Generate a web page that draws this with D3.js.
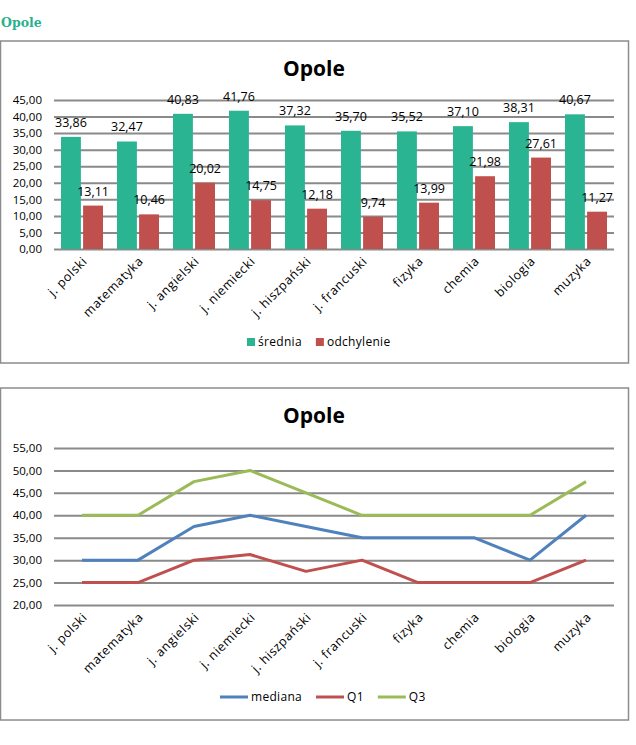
<!DOCTYPE html>
<html>
<head>
<meta charset="utf-8">
<script src="https://cdn.jsdelivr.net/npm/d3@7"></script>
<style>
  body { margin: 0; background: #fff; }
  svg { display: block; }
</style>
</head>
<body>
<div id="chart"></div>
<script>
//---------------------------DATA---------------------------//
const subjects = ["j. polski", "matematyka", "j. angielski", "j. niemiecki", "j. hiszpański",
    "j. francuski", "fizyka", "chemia", "biologia", "muzyka"];
const srednia = [33.86, 32.47, 40.83, 41.76, 37.32, 35.70, 35.52, 37.10, 38.31, 40.67];
const odchylenie = [13.11, 10.46, 20.02, 14.75, 12.18, 9.74, 13.99, 21.98, 27.61, 11.27];
const mediana = [30, 30, 37.5, 40, 37.5, 35, 35, 35, 30, 40];
const q1 = [25, 25, 30, 31.25, 27.5, 30, 25, 25, 25, 30];
const q3 = [40, 40, 47.5, 50, 45, 40, 40, 40, 40, 47.5];
const barTicks = [0, 5, 10, 15, 20, 25, 30, 35, 40, 45];
const lineTicks = [20, 25, 30, 35, 40, 45, 50, 55];

//---------------------------SETUP--------------------------//
const W = 636, H = 745;
const font = "'Open Sans', 'Liberation Sans', sans-serif";
const grid = "#8a8a8a";
const fmt = v => d3.format(".2f")(v).replace(".", ",");

const svg = d3.select("#chart").append("svg")
    .attr("width", W)
    .attr("height", H)
    .style("font-family", font);

svg.append("rect").attr("width", W).attr("height", H).attr("fill", "#fff");

// page heading
svg.append("text")
    .attr("x", 1).attr("y", 27)
    .attr("font-family", "'DejaVu Serif', serif")
    .attr("font-weight", "bold")
    .attr("font-size", 12.5)
    .attr("fill", "#2bb08e")
    .text("Opole");

const x = d3.scaleBand().domain(subjects).range([54, 614]);

function frame(top, bottom) {
    svg.append("rect")
        .attr("x", 0.5).attr("y", top)
        .attr("width", 628).attr("height", bottom - top)
        .attr("fill", "none")
        .attr("stroke", "#8c8c8c")
        .attr("stroke-width", 1.5);
}

function title(y) {
    svg.append("text")
        .attr("x", 314).attr("y", y)
        .attr("text-anchor", "middle")
        .attr("font-weight", "bold")
        .attr("font-size", 21)
        .attr("fill", "#000")
        .text("Opole");
}

function axes(y, ticks, axisY) {
    const yAxis = d3.axisLeft(y)
        .tickValues(ticks)
        .tickSize(-(614 - 54))
        .tickFormat(fmt);
    const g = svg.append("g")
        .attr("transform", "translate(54,0)")
        .call(yAxis);
    g.select(".domain").remove();
    g.selectAll(".tick line").attr("stroke", grid).attr("stroke-width", 2);
    g.selectAll(".tick text")
        .attr("x", -12)
        .attr("font-size", 11.5)
        .attr("fill", "#000")
        .attr("font-family", font);

    const xAxis = d3.axisBottom(x).tickSize(0);
    const gx = svg.append("g")
        .attr("transform", "translate(0," + axisY + ")")
        .call(xAxis);
    gx.select(".domain").remove();
    gx.selectAll(".tick text")
        .attr("font-size", 12.5)
        .attr("font-family", font)
        .attr("letter-spacing", 0.6)
        .attr("fill", "#000")
        .attr("text-anchor", "end")
        .attr("dy", 0)
        .attr("y", 0)
        .attr("transform", "translate(6,13) rotate(-45)");
}

//-------------------------BAR CHART------------------------//
frame(41, 363);
title(76);

const yBar = d3.scaleLinear().domain([0, 45]).range([249, 100]);
axes(yBar, barTicks, 249);

const barSeries = [
    {name: "średnia", values: srednia, color: "#2bb492"},
    {name: "odchylenie", values: odchylenie, color: "#c0504d"}
];
const xSub = d3.scaleBand()
    .domain(barSeries.map(s => s.name))
    .range([7, x.bandwidth() - 7])
    .paddingInner(0.1);

barSeries.forEach(s => {
    const g = svg.append("g");
    g.selectAll("rect")
        .data(s.values)
        .enter().append("rect")
        .attr("x", (d, i) => x(subjects[i]) + xSub(s.name))
        .attr("y", d => yBar(d))
        .attr("width", xSub.bandwidth())
        .attr("height", d => yBar(0) - yBar(d))
        .attr("fill", s.color);
    g.selectAll("text")
        .data(s.values)
        .enter().append("text")
        .attr("x", (d, i) => x(subjects[i]) + xSub(s.name) + xSub.bandwidth() / 2)
        .attr("y", d => yBar(d) - 10)
        .attr("text-anchor", "middle")
        .attr("font-size", 12.5)
        .attr("fill", "#000")
        .text(fmt);
});

// legend
const barLegend = svg.append("g");
let lx = 247;
barSeries.forEach(s => {
    barLegend.append("rect")
        .attr("x", lx).attr("y", 338)
        .attr("width", 8).attr("height", 8)
        .attr("fill", s.color);
    const t = barLegend.append("text")
        .attr("x", lx + 11).attr("y", 346)
        .attr("font-size", 12)
        .attr("letter-spacing", 0.3)
        .text(s.name);
    lx += 11 + t.node().getComputedTextLength() + 14;
});

//------------------------LINE CHART------------------------//
frame(388, 720);
title(423);

const yLine = d3.scaleLinear().domain([20, 55]).range([605, 448]);
axes(yLine, lineTicks, 605);

const lineSeries = [
    {name: "mediana", values: mediana, color: "#4f81bd"},
    {name: "Q1", values: q1, color: "#c0504d"},
    {name: "Q3", values: q3, color: "#9bbb59"}
];
const line = d3.line()
    .x((d, i) => x(subjects[i]) + x.bandwidth() / 2)
    .y(d => yLine(d));

lineSeries.forEach(s => {
    svg.append("path")
        .attr("d", line(s.values))
        .attr("fill", "none")
        .attr("stroke", s.color)
        .attr("stroke-width", 3)
        .attr("stroke-linejoin", "round");
});

const lineLegend = svg.append("g");
lx = 220;
lineSeries.forEach(s => {
    lineLegend.append("line")
        .attr("x1", lx).attr("x2", lx + 28)
        .attr("y1", 697).attr("y2", 697)
        .attr("stroke", s.color)
        .attr("stroke-width", 3);
    const t = lineLegend.append("text")
        .attr("x", lx + 31).attr("y", 701)
        .attr("font-size", 12)
        .attr("letter-spacing", 0.3)
        .text(s.name);
    lx += 31 + t.node().getComputedTextLength() + 14;
});
</script>
</body>
</html>
